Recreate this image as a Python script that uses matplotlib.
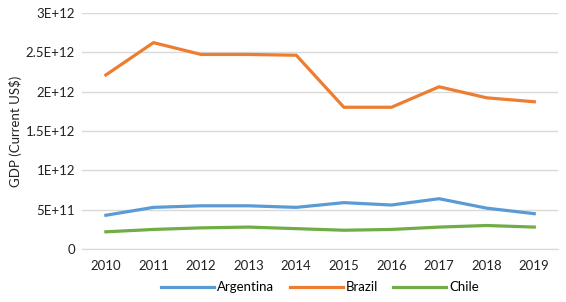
import matplotlib
matplotlib.use("Agg")
import matplotlib.pyplot as plt

years = ["2010", "2011", "2012", "2013", "2014", "2015", "2016", "2017", "2018", "2019"]
argentina = [0.43e12, 0.53e12, 0.55e12, 0.55e12, 0.53e12, 0.59e12, 0.56e12, 0.64e12, 0.52e12, 0.45e12]
brazil = [2.21e12, 2.62e12, 2.47e12, 2.47e12, 2.46e12, 1.80e12, 1.80e12, 2.06e12, 1.92e12, 1.87e12]
chile = [0.22e12, 0.25e12, 0.27e12, 0.28e12, 0.26e12, 0.24e12, 0.25e12, 0.28e12, 0.30e12, 0.28e12]
y_ticks = [0, 0.5e12, 1e12, 1.5e12, 2e12, 2.5e12, 3e12]
y_labels = ["0", "5E+11", "1E+12", "1.5E+12", "2E+12", "2.5E+12", "3E+12"]

plt.rcParams["font.family"] = ["Lato", "DejaVu Sans"]

fig, ax = plt.subplots(figsize=(5.66, 3.02), dpi=100)
fig.subplots_adjust(left=0.145, right=0.986, top=0.958, bottom=0.175)

x = range(len(years))
ax.plot(x, argentina, color="#5B9BD5", linewidth=2.3, label="Argentina")
ax.plot(x, brazil, color="#ED7D31", linewidth=2.3, label="Brazil")
ax.plot(x, chile, color="#70AD47", linewidth=2.3, label="Chile")

ax.set_xlim(-0.5, len(years) - 0.5)
ax.set_ylim(0, 3e12)
ax.set_xticks(list(x))
ax.set_xticklabels(years)
ax.set_yticks(y_ticks)
ax.set_yticklabels(y_labels)
ax.tick_params(length=0, labelsize=9.5, colors="#222222")
ax.tick_params(axis="x", pad=8)
ax.tick_params(axis="y", pad=5)
ax.grid(axis="y", color="#d9d9d9", linewidth=1)
ax.set_axisbelow(True)
for s in ["top", "right", "left"]:
    ax.spines[s].set_visible(False)
ax.spines["bottom"].set_color("#d9d9d9")
ax.set_ylabel("GDP (Current US$)", fontsize=9.5, color="#222222")
ax.yaxis.set_label_coords(-0.126, 0.5)

ax.legend(loc="upper center", bbox_to_anchor=(0.5, -0.085), ncol=3, frameon=False,
          fontsize=9.5, handlelength=4, columnspacing=1.2, handletextpad=0.2)

plt.savefig("out.png", dpi=100)
